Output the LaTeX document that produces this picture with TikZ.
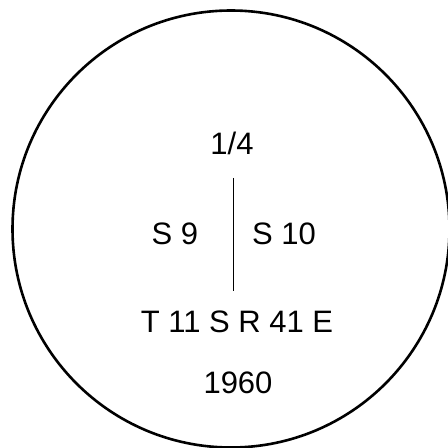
\documentclass[tikz,border=0pt]{standalone}
\usepackage{fontspec}
\setmainfont{Liberation Sans}
\usepackage{tikz}
\usetikzlibrary{positioning}
\tikzset{
  seal/.style={draw, circle, line width=2.6pt, inner sep=0pt, minimum size=437pt},
  stamp/.style={anchor=base, inner sep=0pt, font=\fontsize{31}{37}\selectfont},
  divider/.style={line width=0.9pt},
}

\begin{document}
\begin{tikzpicture}[x=1pt, y=1pt]
\useasboundingbox (0,0) rectangle (448,448);
\node[seal] (rim) at (231,219) {};
\node[stamp] (quarter) at (232,293) {1/4};
\node[stamp] (secw) at (175,203) {S 9};
\node[stamp] (sece) at (284,203) {S 10};
\node[stamp] (twp) at (237,115) {T 11 S R 41 E};
\node[stamp] (year) at (238,54) {1960};
\coordinate (divtop) at (233,270);
\coordinate (divbot) at (233,157);
\draw[divider] (divtop) -- (divbot);
\end{tikzpicture}
\end{document}
